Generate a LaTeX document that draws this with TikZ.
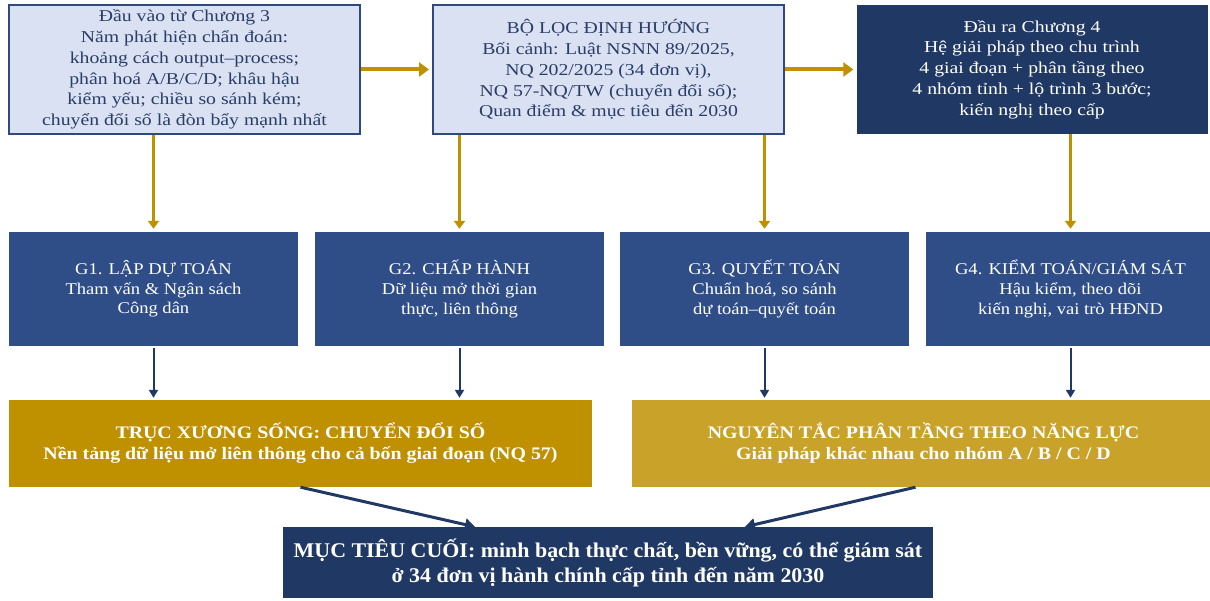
\documentclass[tikz,border=0pt]{standalone}
\usepackage{fontspec}
\setmainfont{Liberation Serif}
% widened cuts of the serif face for the box texts
\newfontfamily\wideTop{Liberation Serif}[FakeStretch=1.19]
\newfontfamily\wideStage{Liberation Serif}[FakeStretch=1.13]
\newfontfamily\wideBand{Liberation Serif}[FakeStretch=1.13]
\newfontfamily\wideGoal{Liberation Serif}[FakeStretch=1.05]
\usetikzlibrary{arrows.meta}
\definecolor{navy}{HTML}{1F3864}
\definecolor{paleblue}{HTML}{D9E1F2}
\definecolor{frameblue}{HTML}{2E4A7D}
\definecolor{inkblue}{HTML}{2A3D66}
\definecolor{stageblue}{HTML}{2F4E88}
\definecolor{darkgold}{HTML}{BF9000}
\definecolor{lightgold}{HTML}{C9A22A}
\tikzset{
  inbox/.style={draw=frameblue, line width=2pt, fill=paleblue, text=inkblue,
    minimum width=351pt, minimum height=129pt, align=center,
    font=\wideTop\fontsize{16.6}{20.8}\selectfont},
  outbox/.style={fill=navy, text=white, minimum width=351pt, minimum height=129pt,
    align=center, font=\wideTop\fontsize{16.6}{20.8}\selectfont},
  stagebox/.style={fill=stageblue, text=white, minimum width=289pt, minimum height=114pt,
    align=center, font=\wideStage\fontsize{16.4}{19.6}\selectfont},
  bandbox/.style={text=white, minimum width=583pt, minimum height=87pt, align=center,
    font=\wideBand\bfseries\fontsize{17.6}{21}\selectfont},
  goalbox/.style={fill=navy, text=white, minimum width=650pt, minimum height=71pt,
    align=center, font=\wideGoal\bfseries\fontsize{20.9}{25}\selectfont},
  goldarrow/.style={draw=darkgold, line width=4pt, -{Triangle[width=14pt,length=10pt]}},
  golddrop/.style={draw=darkgold, line width=2.5pt, -{Triangle[width=11pt,length=8pt]}},
  navydrop/.style={draw=navy, line width=2pt, -{Triangle[width=9pt,length=8pt]}},
  navyjoin/.style={draw=navy, line width=3pt, -{Triangle[width=12pt,length=10pt]}}
}
\begin{document}
\begin{tikzpicture}[x=1pt, y=-1pt]
\useasboundingbox (0,0) rectangle (1210,601);

% top row: input, orientation filter, output
\node[inbox] (input) at (184.5,69.5) {Đầu vào từ Chương 3\\Năm phát hiện chẩn đoán:\\khoảng cách output–process;\\phân hoá A/B/C/D; khâu hậu\\kiểm yếu; chiều so sánh kém;\\chuyển đổi số là đòn bẩy mạnh nhất};
\node[inbox] (filter) at (608.5,69.5) {BỘ LỌC ĐỊNH HƯỚNG\\Bối cảnh: Luật NSNN 89/2025,\\NQ 202/2025 (34 đơn vị),\\NQ 57-NQ/TW (chuyển đổi số);\\Quan điểm \& mục tiêu đến 2030};
\node[outbox] (output) at (1032,69.5) {Đầu ra Chương 4\\Hệ giải pháp theo chu trình\\4 giai đoạn + phân tầng theo\\4 nhóm tỉnh + lộ trình 3 bước;\\kiến nghị theo cấp};

% budget cycle stages
\node[stagebox] (g1) at (153.5,289) {G1. LẬP DỰ TOÁN\\Tham vấn \& Ngân sách\\Công dân};
\node[stagebox] (g2) at (459.5,289) {G2. CHẤP HÀNH\\Dữ liệu mở thời gian\\thực, liên thông};
\node[stagebox] (g3) at (764.5,289) {G3. QUYẾT TOÁN\\Chuẩn hoá, so sánh\\dự toán–quyết toán};
\node[stagebox] (g4) at (1070.5,289) {G4. KIỂM TOÁN/GIÁM SÁT\\Hậu kiểm, theo dõi\\kiến nghị, vai trò HĐND};

% cross-cutting bands
\node[bandbox, fill=darkgold] (spine) at (300.5,443.5) {TRỤC XƯƠNG SỐNG: CHUYỂN ĐỔI SỐ\\Nền tảng dữ liệu mở liên thông cho cả bốn giai đoạn (NQ 57)};
\node[bandbox, fill=lightgold] (tiers) at (923.5,443.5) {NGUYÊN TẮC PHÂN TẦNG THEO NĂNG LỰC\\Giải pháp khác nhau cho nhóm A / B / C / D};

% final goal
\node[goalbox] (goal) at (608,562.5) {MỤC TIÊU CUỐI: minh bạch thực chất, bền vững, có thể giám sát\\ở 34 đơn vị hành chính cấp tỉnh đến năm 2030};

% flow along the top row
\draw[goldarrow] (input.east) -- ([xshift=-3pt]filter.west);
\draw[goldarrow] (filter.east) -- ([xshift=-3pt]output.west);

% top row feeds the stages
\draw[golddrop] (input.south -| g1.north) -- ([yshift=3pt]g1.north);
\draw[golddrop] (filter.south -| g2.north) -- ([yshift=3pt]g2.north);
\draw[golddrop] (filter.south -| g3.north) -- ([yshift=3pt]g3.north);
\draw[golddrop] (output.south -| g4.north) -- ([yshift=3pt]g4.north);

% stages feed the bands
\draw[navydrop] ([yshift=-2pt]g1.south) -- ([yshift=2pt]spine.north -| g1.south);
\draw[navydrop] ([yshift=-2pt]g2.south) -- ([yshift=2pt]spine.north -| g2.south);
\draw[navydrop] ([yshift=-2pt]g3.south) -- ([yshift=2pt]tiers.north -| g3.south);
\draw[navydrop] ([yshift=-2pt]g4.south) -- ([yshift=2pt]tiers.north -| g4.south);

% bands converge on the goal
\coordinate (goalL) at ([xshift=-133pt]goal.north);
\coordinate (goalR) at ([xshift=137pt]goal.north);
\draw[navyjoin] (spine.south) -- (goalL);
\draw[navyjoin] ([xshift=-8pt]tiers.south) -- (goalR);
\end{tikzpicture}
\end{document}
